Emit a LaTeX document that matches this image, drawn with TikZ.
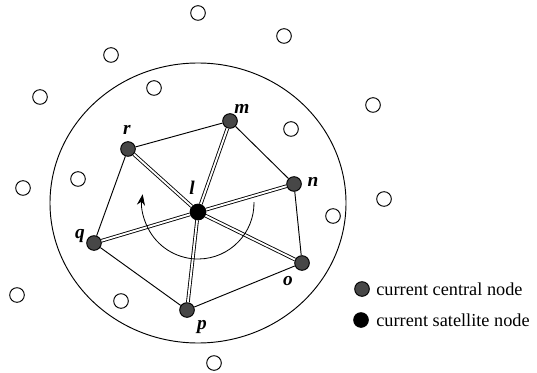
\documentclass[tikz,border=0pt]{standalone}
\usepackage{fontspec}
\setmainfont{Liberation Serif}
\usetikzlibrary{arrows.meta}
\begin{document}
\begin{tikzpicture}[x=0.03cm, y=-0.03cm, line width=0.8pt,
  every node/.style={font=\fontsize{15.6}{18}\selectfont},
  central/.style={circle, draw, fill=black!72, inner sep=0pt, minimum size=12.5pt},
  satellite/.style={circle, draw, fill=black, inner sep=0pt, minimum size=13.5pt},
  other/.style={circle, draw, inner sep=0pt, minimum size=12.5pt},
  tag/.style={font=\fontsize{16.5}{18}\selectfont\itshape\bfseries},
  dbl/.style={double, double distance=1.6pt, line width=0.75pt}]
  \useasboundingbox (0,0) rectangle (537,373);

  % Neighbourhood
  \draw (198,203) ellipse [x radius=148, y radius=140];

  % Nodes of the current cluster
  \node[satellite] (l) at (198,212) {};
  \node[central] (m) at (230,121) {};
  \node[central] (n) at (294,184) {};
  \node[central] (o) at (302,263) {};
  \node[central] (p) at (187,310) {};
  \node[central] (q) at (94,243) {};
  \node[central] (r) at (128,149) {};

  \node[tag] at (192,188) {l};
  \node[tag] at (242,109) {m};
  \node[tag] at (313,182) {n};
  \node[tag] at (288,281) {o};
  \node[tag] at (202,327) {p};
  \node[tag] at (80,236) {q};
  \node[tag] at (127,130) {r};

  % Ring and spokes
  \draw (r) -- (m) -- (n) -- (o) -- (p) -- (q) -- (r);
  \foreach \dst in {m, n, o, p, q, r}
    \draw[dbl] (l) -- (\dst);

  % Sweep around the satellite
  \coordinate (turn) at (198,203);
  \draw[-{Stealth[length=9.5pt, width=7pt]}, line width=0.7pt]
    ([shift={(-1:56)}]turn) arc[start angle=-1, end angle=189, radius=56];

  % Other nodes
  \foreach \x/\y [count=\i] in {198/13, 284/36, 111/55, 154/88, 40/97, 373/105,
      291/129, 78/179, 23/188, 384/199, 333/216, 17/295, 121/301, 214/363}
    \node[other] (s\i) at (\x,\y) {};

  % Legend
  \node[central] (kc) at (362,289) {};
  \node[anchor=west] (kct) at (372,289) {current central node};
  \node[satellite, minimum size=12.5pt] (ks) at (361,320) {};
  \node[anchor=west] (kst) at (372,320) {current satellite node};
\end{tikzpicture}
\end{document}
